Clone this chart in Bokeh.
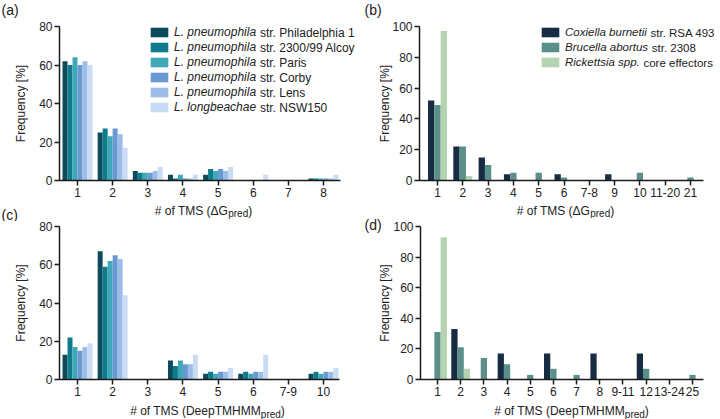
from bokeh.plotting import figure
from bokeh.layouts import row, column
from bokeh.models import (ColumnDataSource, FixedTicker, Legend, LegendItem,
                          Label, Range1d)
from bokeh.core.properties import value
from bokeh.transform import dodge
from bokeh.embed import file_html
from bokeh.resources import INLINE

FONT = "Liberation Sans"
TXT = "#222222"
AX = "#1a1a1a"

# ---------------- data ----------------
# Panel (a): Legionella, ΔG_pred
a_categories = ["1", "2", "3", "4", "5", "6", "7", "8"]
a_philadelphia = [62, 25, 5, 3, 3, 0, 0, 1]
a_alcoy = [60, 27, 4, 1, 6, 0, 0, 1]
a_paris = [64, 23, 4, 3, 5, 0, 0, 1]
a_corby = [60, 27, 4, 1, 6, 0, 0, 1]
a_lens = [62, 24, 5, 1, 5, 0, 0, 1]
a_nsw150 = [60, 17, 7, 3, 7, 3, 0, 3]

# Panel (c): Legionella, DeepTMHMM_pred
c_categories = ["1", "2", "3", "4", "5", "6", "7-9", "10"]
c_philadelphia = [13, 67, 0, 10, 3, 3, 0, 3]
c_alcoy = [22, 59, 0, 7, 4, 4, 0, 4]
c_paris = [17, 62, 0, 10, 3, 3, 0, 3]
c_corby = [15, 65, 0, 8, 4, 4, 0, 4]
c_lens = [17, 63, 0, 8, 4, 4, 0, 4]
c_nsw150 = [19, 44, 0, 13, 6, 13, 0, 6]

# Panel (b): other pathogens, ΔG_pred
b_categories = ["1", "2", "3", "4", "5", "6", "7-8", "9", "10", "11-20", "21"]
b_coxiella = [52, 22, 15, 4, 0, 4, 0, 4, 0, 0, 0]
b_brucella = [49, 22, 10, 5, 5, 2, 0, 0, 5, 0, 2]
b_rickettsia = [97, 3, 0, 0, 0, 0, 0, 0, 0, 0, 0]

# Panel (d): other pathogens, DeepTMHMM_pred
d_categories = ["1", "2", "3", "4", "5", "6", "7", "8", "9-11", "12", "13-24", "25"]
d_coxiella = [0, 33, 0, 17, 0, 17, 0, 17, 0, 17, 0, 0]
d_brucella = [31, 21, 14, 10, 3, 7, 3, 0, 0, 7, 0, 3]
d_rickettsia = [93, 7, 0, 0, 0, 0, 0, 0, 0, 0, 0, 0]

leg_species = ["L. pneumophila", "L. pneumophila", "L. pneumophila",
               "L. pneumophila", "L. pneumophila", "L. longbeachae"]
leg_strains = ["str. Philadelphia 1", "str. 2300/99 Alcoy", "str. Paris",
               "str. Corby", "str. Lens", "str. NSW150"]
leg2_species = ["Coxiella burnetii", "Brucella abortus", "Rickettsia spp."]
leg2_strains = ["str. RSA 493", "str. 2308", "core effectors"]

A_COLORS = ["#0d4b5c", "#0f7b8c", "#3ea8b6", "#6a98d3", "#9bbde6", "#cadcf3"]
B_COLORS = ["#172b42", "#5b8f8a", "#b4d4b1"]

# Arial / Liberation Sans advance widths (per 1000 em)
W = {' ': 278, '#': 556, '(': 333, ')': 333, '.': 278, '/': 278, '-': 333,
     'Δ': 668, 'A': 667, 'B': 667, 'C': 722, 'D': 722, 'G': 778, 'H': 722,
     'L': 556, 'M': 833, 'P': 667, 'R': 722, 'S': 667, 'T': 611,
     'a': 556, 'b': 556, 'c': 500, 'd': 556, 'e': 556, 'f': 278, 'g': 556,
     'h': 556, 'i': 222, 'k': 500, 'l': 222, 'm': 833, 'n': 556, 'o': 556,
     'p': 556, 'r': 333, 's': 500, 't': 278, 'u': 556, 'x': 500, 'y': 500}


def tw(s, size):
    return sum(W.get(ch, 556) for ch in s) * size / 1000.0


class Panel:
    """A figure whose frame fills its canvas; axes are pinned with
    fixed_location so that all annotation text lies inside the frame."""

    def __init__(self, w, h, off, xanch, yanch, xaxis_px, ymax, cats):
        self.w, self.h, self.off = w, h, off
        (px0, dx0), (px1, dx1) = xanch
        kx = (dx1 - dx0) / float(px1 - px0)
        fx = lambda px: dx0 + (px - px0) * kx
        (py0, dy0), (py1, dy1) = yanch
        ky = (dy1 - dy0) / float(py1 - py0)
        fy = lambda py: dy0 + (py - py0) * ky
        p = figure(width=w, height=h, output_backend="svg",
                   toolbar_location=None,
                   x_range=Range1d(fx(0), fx(w)), y_range=Range1d(fy(h), fy(0)),
                   min_border=0, min_border_left=0, min_border_right=0,
                   min_border_top=0, min_border_bottom=0)
        p.outline_line_color = None
        p.xgrid.visible = False
        p.ygrid.visible = False
        p.background_fill_color = "white"
        p.border_fill_color = "white"
        xlo, xhi = fx(xaxis_px[0]), fx(xaxis_px[1])
        for ax in (p.xaxis[0], p.yaxis[0]):
            ax.axis_line_color = AX
            ax.axis_line_width = 1.5
            ax.major_tick_line_color = AX
            ax.major_tick_line_width = 1.5
            ax.major_tick_out = 5
            ax.major_tick_in = 0
            ax.minor_tick_line_color = None
            ax.major_label_text_font = FONT
            ax.major_label_text_font_size = "12px"
            ax.major_label_text_color = TXT
            ax.major_label_standoff = 2
        xa, ya = p.xaxis[0], p.yaxis[0]
        xa.fixed_location = 0
        xa.bounds = (xlo, xhi)
        xa.ticker = FixedTicker(ticks=list(range(1, len(cats) + 1)))
        xa.major_label_overrides = {i + 1: c for i, c in enumerate(cats)}
        ya.fixed_location = xlo
        ya.bounds = (0, ymax)
        ya.ticker = FixedTicker(ticks=list(range(0, ymax + 1, 20)))
        ya.axis_label = "Frequency [%]"
        ya.axis_label_text_font = FONT
        ya.axis_label_text_font_size = "12px"
        ya.axis_label_text_font_style = "normal"
        ya.axis_label_text_color = TXT
        self.p = p
        self.cats = cats

    def bars(self, series, colors, width):
        data = {"x": list(range(1, len(self.cats) + 1))}
        for i, s in enumerate(series):
            data["s%d" % i] = s
        src = ColumnDataSource(data)
        n = len(series)
        rs = []
        for i in range(n):
            off = (i - (n - 1) / 2.0) * width
            r = self.p.vbar(x=dodge("x", off), top="s%d" % i, width=width,
                            source=src, fill_color=colors[i], line_color=None)
            rs.append(r)
        return rs

    def label(self, gx, gy, text, size=12, style="normal",
              baseline="alphabetic"):
        ox, oy = self.off
        self.p.add_layout(Label(x=gx - ox, y=self.h - (gy - oy),
                                x_units="screen", y_units="screen", text=text,
                                text_font=FONT, text_font_size="%gpx" % size,
                                text_font_style=style, text_baseline=baseline,
                                text_align="left", text_color=TXT))

    def xlabel(self, gcx, gy, main):
        parts = [(main, 12, 0), ("pred", 10, 3), (")", 12, 0)]
        total = sum(tw(t, s) for t, s, _ in parts)
        x = gcx - total / 2.0
        for t, s, dy in parts:
            self.label(x, gy + dy, t, size=s)
            x += tw(t, s)

    def legend(self, rs, species, strains, gx, gy_top, standoff, fs=12):
        ox, oy = self.off
        gw, gh, lh, sp = 22, 12, 14, 1
        n = len(rs)
        H = n * lh + (n - 1) * sp
        vx = gx - ox
        vy = self.h - (gy_top - oy) - H
        items = [LegendItem(label=value(sname), renderers=[r])
                 for sname, r in zip(species, rs)]
        leg = Legend(items=items, location=(vx, vy), orientation="vertical",
                     padding=0, margin=0, spacing=sp, glyph_width=gw,
                     glyph_height=gh, label_height=lh, label_standoff=standoff,
                     label_text_font=FONT, label_text_font_size="%gpx" % fs,
                     label_text_font_style="italic", label_text_color=TXT,
                     background_fill_alpha=0, border_line_color=None)
        self.p.add_layout(leg)
        for i, (sname, st) in enumerate(zip(species, strains)):
            tx = gx + gw + standoff + tw(sname + " ", fs)
            ty = gy_top + i * (lh + sp) + lh / 2.0
            self.label(tx, ty, st, size=fs, baseline="middle")


# ---------------- panel (a) ----------------
A = Panel(360, 221, (0, 0), ((77, 1), (323, 8)), ((180, 0), (26, 80)),
          (59, 340), 80, a_categories)
ra = A.bars([a_philadelphia, a_alcoy, a_paris, a_corby, a_lens, a_nsw150],
            A_COLORS, 0.142)
A.p.yaxis[0].axis_label_standoff = 8
A.legend(ra, leg_species, leg_strains, 148, 25, 4)
A.xlabel(203, 210, "# of TMS (ΔG")
A.label(1, 9, "(a)", size=14, baseline="middle")
A.label(1, 214, "(c)", size=14, baseline="middle")

# ---------------- panel (b) ----------------
B = Panel(360, 218, (360, 0), ((77, 1), (330, 11)), ((180, 0), (26, 100)),
          (59, 343), 100, b_categories)
rb = B.bars([b_coxiella, b_brucella, b_rickettsia], B_COLORS, 0.25)
B.p.yaxis[0].axis_label_standoff = -3
B.legend(rb, leg2_species, leg2_strains, 539, 25, 4, fs=11.5)
B.xlabel(565, 210, "# of TMS (ΔG")
B.label(364, 9, "(b)", size=14, baseline="middle")

# ---------------- panel (c) ----------------
C = Panel(360, 198, (0, 221), ((77, 1), (323, 8)), ((158, 0), (5, 80)),
          (59, 339), 80, c_categories)
C.bars([c_philadelphia, c_alcoy, c_paris, c_corby, c_lens, c_nsw150],
       A_COLORS, 0.142)
C.p.yaxis[0].axis_label_standoff = 8
C.xlabel(207, 410.5, "# of TMS (DeepTMHMM")

# ---------------- panel (d) ----------------
D = Panel(360, 201, (360, 218), ((77, 1), (332, 12)), ((161, 0), (8, 100)),
          (60, 343), 100, d_categories)
D.bars([d_coxiella, d_brucella, d_rickettsia], B_COLORS, 0.27)
D.p.yaxis[0].axis_label_standoff = -2
D.xlabel(571, 410.5, "# of TMS (DeepTMHMM")
D.label(364, 224, "(d)", size=14, baseline="middle")

layout = row(column(A.p, C.p), column(B.p, D.p))
open("out.html", "w").write(file_html(layout, INLINE))
